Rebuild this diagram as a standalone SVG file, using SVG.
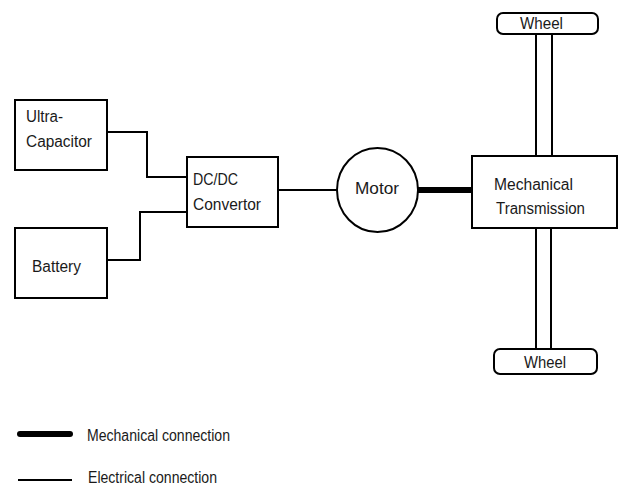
<svg xmlns="http://www.w3.org/2000/svg" width="618" height="486" viewBox="0 0 618 486">
<style>
.box{fill:#fff;stroke:#000;stroke-width:2}
.el{fill:none;stroke:#000;stroke-width:2}
.mech{fill:none;stroke:#000;stroke-width:6}
text{font-family:"Liberation Sans",Arial,sans-serif;font-size:16px;fill:#1a1a1a}
</style>
<rect width="618" height="486" fill="#fff"/>
<g id="connectors">
<polyline class="el" points="107,132 147,132 147,177 187,177"/>
<polyline class="el" points="107,260 140,260 140,212 187,212"/>
<line class="el" x1="278" y1="190" x2="337" y2="190"/>
<line class="mech" x1="418" y1="190" x2="473" y2="190"/>
<line class="el" x1="536" y1="34" x2="536" y2="156"/>
<line class="el" x1="552" y1="34" x2="552" y2="156"/>
<line class="el" x1="536" y1="228" x2="536" y2="349"/>
<line class="el" x1="551" y1="228" x2="551" y2="349"/>
</g>
<g id="ultracap">
<rect class="box" x="15" y="100" width="92" height="70"/>
<text x="26" y="122" textLength="37" lengthAdjust="spacingAndGlyphs">Ultra-</text>
<text x="26" y="147" textLength="66" lengthAdjust="spacingAndGlyphs">Capacitor</text>
</g>
<g id="battery">
<rect class="box" x="15" y="228" width="92" height="70"/>
<text x="32" y="272" textLength="49" lengthAdjust="spacingAndGlyphs">Battery</text>
</g>
<g id="dcdc">
<rect class="box" x="187" y="157" width="91" height="70"/>
<text x="193" y="185" textLength="45" lengthAdjust="spacingAndGlyphs">DC/DC</text>
<text x="193" y="210" textLength="68" lengthAdjust="spacingAndGlyphs">Convertor</text>
</g>
<g id="motor">
<ellipse class="box" cx="377.5" cy="190" rx="40.5" ry="42"/>
<text x="355" y="194" textLength="44" lengthAdjust="spacingAndGlyphs">Motor</text>
</g>
<g id="transmission">
<rect class="box" x="472" y="156" width="145" height="72"/>
<text x="494" y="190" textLength="79" lengthAdjust="spacingAndGlyphs">Mechanical</text>
<text x="496" y="214" textLength="89" lengthAdjust="spacingAndGlyphs">Transmission</text>
</g>
<g id="wheel-top">
<rect class="box" x="497" y="13" width="101" height="21" rx="6"/>
<text x="520" y="29" textLength="43" lengthAdjust="spacingAndGlyphs">Wheel</text>
</g>
<g id="wheel-bottom">
<rect class="box" x="494" y="349" width="103" height="25" rx="6"/>
<text x="524" y="368" textLength="42" lengthAdjust="spacingAndGlyphs">Wheel</text>
</g>
<g id="legend">
<line x1="20" y1="434" x2="70" y2="434" stroke="#000" stroke-width="6" stroke-linecap="round"/>
<text x="87" y="441" font-size="15" textLength="143" lengthAdjust="spacingAndGlyphs">Mechanical connection</text>
<line x1="18" y1="480" x2="72" y2="480" stroke="#000" stroke-width="2"/>
<text x="88" y="483" font-size="15" textLength="129" lengthAdjust="spacingAndGlyphs">Electrical connection</text>
</g>
</svg>
